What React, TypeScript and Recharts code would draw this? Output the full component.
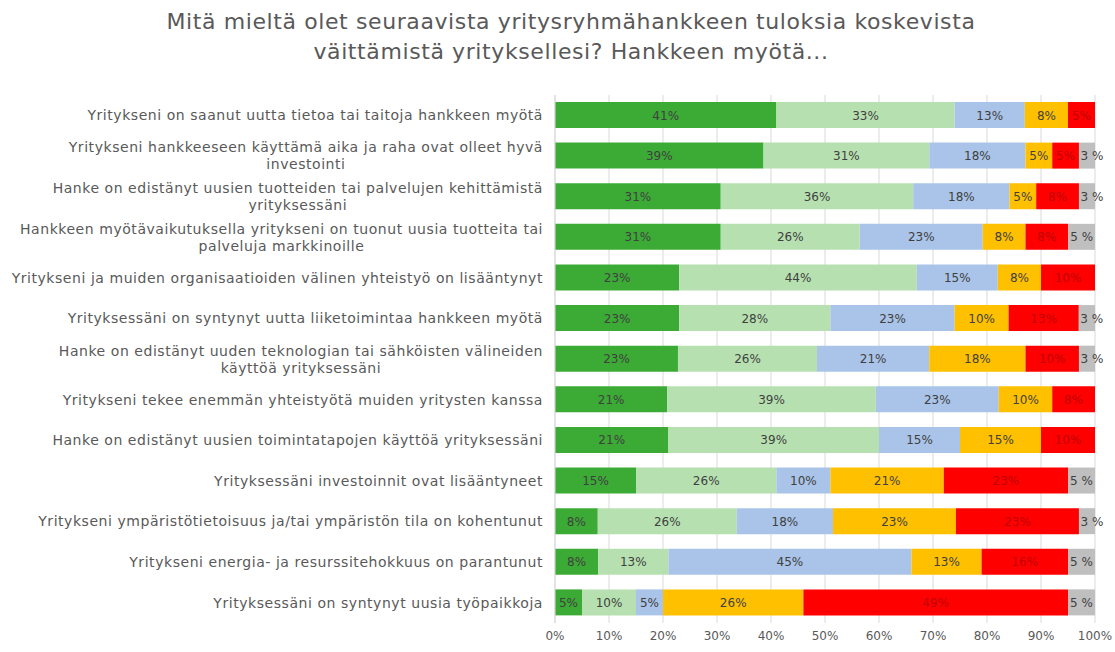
import React from 'react';
import { BarChart, Bar, XAxis, YAxis, CartesianGrid, LabelList } from 'recharts';

const categories = [
  'Yritykseni on saanut uutta tietoa tai taitoja hankkeen myötä',
  'Yritykseni hankkeeseen käyttämä aika ja raha ovat olleet hyvä\ninvestointi',
  'Hanke on edistänyt uusien tuotteiden tai palvelujen kehittämistä\nyrityksessäni',
  'Hankkeen myötävaikutuksella yritykseni on tuonut uusia tuotteita tai\npalveluja markkinoille',
  'Yritykseni ja muiden organisaatioiden välinen yhteistyö on lisääntynyt',
  'Yrityksessäni on syntynyt uutta liiketoimintaa hankkeen myötä',
  'Hanke on edistänyt uuden teknologian tai sähköisten välineiden\nkäyttöä yrityksessäni',
  'Yritykseni tekee enemmän yhteistyötä muiden yritysten kanssa',
  'Hanke on edistänyt uusien toimintatapojen käyttöä yrityksessäni',
  'Yrityksessäni investoinnit ovat lisääntyneet',
  'Yritykseni ympäristötietoisuus ja/tai ympäristön tila on kohentunut',
  'Yritykseni energia- ja resurssitehokkuus on parantunut',
  'Yrityksessäni on syntynyt uusia työpaikkoja',
];

const darkGreen = [41, 39, 31, 31, 23, 23, 23, 21, 21, 15, 8, 8, 5];
const lightGreen = [33, 31, 36, 26, 44, 28, 26, 39, 39, 26, 26, 13, 10];
const blue = [13, 18, 18, 23, 15, 23, 21, 23, 15, 10, 18, 45, 5];
const orange = [8, 5, 5, 8, 8, 10, 18, 10, 15, 21, 23, 13, 26];
const red = [5, 5, 8, 8, 10, 13, 10, 8, 10, 23, 23, 16, 49];
const grey = [0, 3, 3, 5, 0, 3, 3, 0, 0, 5, 3, 5, 5];

const xTickLabels = [0, 10, 20, 30, 40, 50, 60, 70, 80, 90, 100];

const data = categories.map((name, i) => ({
  name,
  s1: darkGreen[i],
  s2: lightGreen[i],
  s3: blue[i],
  s4: orange[i],
  s5: red[i],
  s6: grey[i],
}));

const FONT = '"DejaVu Sans", Verdana, sans-serif';
const TEXT = '#595959';
const CAT_SIZE = 14;
const CAT_SPACING = 0.55;

let ctx: CanvasRenderingContext2D | null = null;
const measure = (s: string) => {
  if (!ctx) ctx = document.createElement('canvas').getContext('2d');
  if (!ctx) return s.length * 8;
  ctx.font = `${CAT_SIZE}px ${FONT}`;
  return ctx.measureText(s).width + s.length * CAT_SPACING;
};

const CategoryTick = (props: any) => {
  const { x, y, payload } = props;
  const lines: string[] = String(payload.value).split('\n');
  const right = x - 4;
  const common = { fontSize: CAT_SIZE, fill: TEXT, fontFamily: FONT, letterSpacing: CAT_SPACING };
  if (lines.length === 1) {
    return (
      <text x={right} y={y} dy={5} textAnchor="end" {...common}>
        {lines[0]}
      </text>
    );
  }
  const w = measure(lines[0]);
  return (
    <text {...common}>
      <tspan x={right} y={y - 8.5} dy={5} textAnchor="end">{lines[0]}</tspan>
      <tspan x={right - w / 2} y={y + 8.5} dy={5} textAnchor="middle">{lines[1]}</tspan>
    </text>
  );
};

const makeLabel = (color: string, spaced = false) => (props: any) => {
  const { x, y, width, height, value } = props;
  if (!value) return null;
  const cx = spaced ? x + Math.max(width / 2, 13) : x + width / 2;
  return (
    <text x={cx} y={y + height / 2} dy={4.5} textAnchor="middle" fontSize={12} fill={color} fontFamily={FONT}>
      {spaced ? `${value} %` : `${value}%`}
    </text>
  );
};

const series = [
  { key: 's1', fill: '#3cab36', label: '#404040' },
  { key: 's2', fill: '#b7e0b0', label: '#404040' },
  { key: 's3', fill: '#a9c4e8', label: '#404040' },
  { key: 's4', fill: '#ffc000', label: '#404040' },
  { key: 's5', fill: '#ff0000', label: '#c00000' },
  { key: 's6', fill: '#bfbfbf', label: '#404040' },
];

export default function App() {
  return (
    <div style={{ position: 'absolute', left: 0, top: 0, width: 1115, height: 652, background: '#fff' }}>
      <div
        style={{
          position: 'absolute',
          left: 121,
          top: 7,
          width: 900,
          textAlign: 'center',
          fontFamily: FONT,
          fontSize: 22,
          letterSpacing: 0.6,
          lineHeight: '30px',
          color: TEXT,
          whiteSpace: 'nowrap',
        }}
      >
        Mitä mieltä olet seuraavista yritysryhmähankkeen tuloksia koskevista
        <br />
        väittämistä yrityksellesi? Hankkeen myötä...
      </div>
      <BarChart
        width={1115}
        height={652}
        data={data}
        layout="vertical"
        stackOffset="expand"
        barSize={26}
        margin={{ top: 95, right: 20, left: 0, bottom: 0 }}
      >
        <CartesianGrid horizontal={false} stroke="#d9d9d9" />
        <XAxis
          type="number"
          domain={[0, 1]}
          ticks={xTickLabels.map((t) => t / 100)}
          tickFormatter={(v: number) => `${Math.round(v * 100)}%`}
          axisLine={false}
          tickLine={false}
          height={29}
          tick={{ fontSize: 12, fill: TEXT, fontFamily: FONT }}
          interval={0}
        />
        <YAxis
          type="category"
          dataKey="name"
          width={555}
          axisLine={{ stroke: '#d9d9d9' }}
          tickLine={false}
          tick={<CategoryTick />}
          interval={0}
        />
        {series.map((s) => (
          <Bar key={s.key} dataKey={s.key} stackId="a" fill={s.fill} isAnimationActive={false}>
            <LabelList dataKey={s.key} content={makeLabel(s.label, s.key === 's6')} />
          </Bar>
        ))}
      </BarChart>
    </div>
  );
}
